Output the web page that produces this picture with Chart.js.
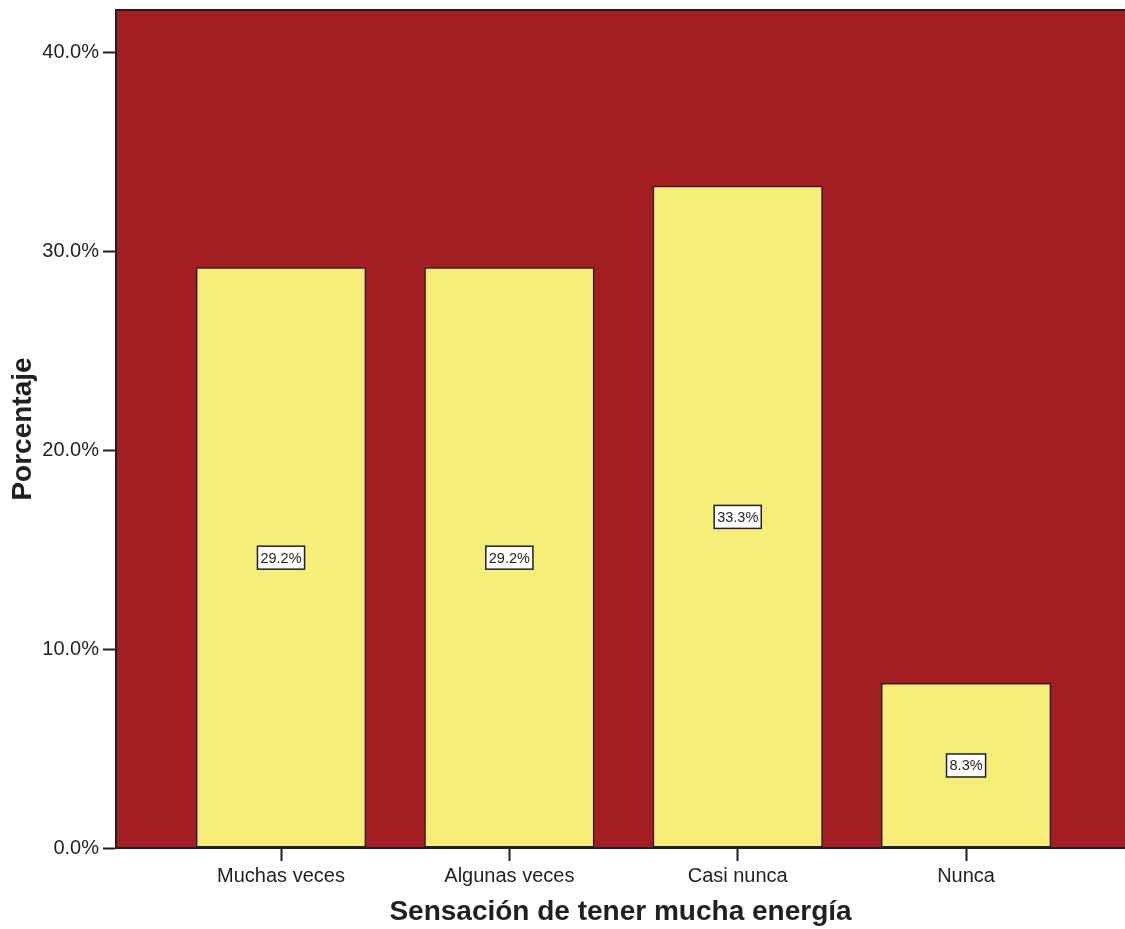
<!DOCTYPE html>
<html>
<head>
<meta charset="utf-8">
<script src="https://cdn.jsdelivr.net/npm/chart.js@4"></script>
<style>
  html, body { margin: 0; padding: 0; background: #fff; }
  #wrap { width: 1125px; height: 929px; }
</style>
</head>
<body>
<div id="wrap"><canvas id="chart" width="1125" height="929"></canvas></div>
<script>
// Datos del gráfico
const categorias = ['Muchas veces', 'Algunas veces', 'Casi nunca', 'Nunca'];
const porcentajes = [29.2, 29.2, 33.3, 8.3];
const ticksY = [0, 10, 20, 30, 40];

const tinta = '#231f20';
const fuente = "'Liberation Sans', Arial, sans-serif";

// Fondo rojo del área de trazado y borde superior
const fondoPlugin = {
    id: 'fondo',
    beforeDraw(chart) {
        const { ctx, chartArea: a } = chart;
        ctx.save();
        ctx.fillStyle = '#a21e22';
        ctx.fillRect(a.left, a.top, a.right - a.left, a.bottom - a.top);
        ctx.strokeStyle = tinta;
        ctx.lineWidth = 2;
        ctx.beginPath();
        ctx.moveTo(a.left, a.top);
        ctx.lineTo(a.right, a.top);
        ctx.stroke();
        ctx.restore();
    }
};

// Etiquetas con el valor en medio de cada barra
const etiquetasPlugin = {
    id: 'etiquetas',
    afterDatasetsDraw(chart) {
        const { ctx } = chart;
        const meta = chart.getDatasetMeta(0);
        const yScale = chart.scales.y;
        ctx.save();
        ctx.font = '14.5px ' + fuente;
        ctx.textAlign = 'center';
        ctx.textBaseline = 'middle';
        meta.data.forEach((bar, i) => {
            const texto = porcentajes[i].toFixed(1) + '%';
            const yc = yScale.getPixelForValue(porcentajes[i] / 2);
            const w = ctx.measureText(texto).width + 6;
            const h = 23;
            ctx.fillStyle = '#ffffff';
            ctx.fillRect(bar.x - w / 2, yc - h / 2, w, h);
            ctx.strokeStyle = tinta;
            ctx.lineWidth = 1.5;
            ctx.strokeRect(bar.x - w / 2, yc - h / 2, w, h);
            ctx.fillStyle = tinta;
            ctx.fillText(texto, bar.x, yc + 1);
        });
        ctx.restore();
    }
};

new Chart(document.getElementById('chart'), {
    type: 'bar',
    data: {
        datasets: [{
            data: porcentajes.map((v, i) => ({ x: i + 1, y: v })),
            backgroundColor: '#f7ee7a',
            borderColor: tinta,
            borderWidth: 1.5,
            borderSkipped: false,
            barPercentage: 0.745,
            categoryPercentage: 1
        }]
    },
    options: {
        responsive: false,
        animation: false,
        layout: { padding: { top: 10, right: 0, left: 0, bottom: 0 } },
        plugins: {
            legend: { display: false },
            tooltip: { enabled: false }
        },
        scales: {
            x: {
                type: 'linear',
                offset: false,
                min: 0.2774,
                max: 4.696,
                afterBuildTicks: s => { s.ticks = categorias.map((c, i) => ({ value: i + 1 })); },
                afterFit: s => { s.height = 81; s.paddingLeft = 0; s.paddingRight = 0; },
                ticks: {
                    callback: v => categorias[v - 1],
                    color: tinta,
                    font: { family: fuente, size: 20 },
                    padding: 3,
                    maxRotation: 0,
                    autoSkip: false
                },
                grid: {
                    offset: false,
                    drawOnChartArea: false,
                    drawTicks: true,
                    tickLength: 13,
                    tickWidth: 2,
                    tickColor: tinta
                },
                border: { display: true, color: tinta, width: 2 },
                title: {
                    display: true,
                    text: 'Sensación de tener mucha energía',
                    color: tinta,
                    font: { family: fuente, size: 28, weight: 'bold' },
                    padding: { top: 0, bottom: 0 }
                }
            },
            y: {
                min: 0,
                max: 42.14,
                afterBuildTicks: s => { s.ticks = ticksY.map(v => ({ value: v })); },
                afterFit: s => { s.width = 116; s.paddingTop = 0; s.paddingBottom = 0; },
                ticks: {
                    callback: v => v.toFixed(1) + '%',
                    color: tinta,
                    font: { family: fuente, size: 20 },
                    padding: 4
                },
                grid: {
                    drawOnChartArea: false,
                    drawTicks: true,
                    tickLength: 13,
                    tickWidth: 2,
                    tickColor: tinta
                },
                border: { display: true, color: tinta, width: 2 },
                title: {
                    display: true,
                    text: 'Porcentaje',
                    color: tinta,
                    font: { family: fuente, size: 28, weight: 'bold' },
                    padding: { top: 6, bottom: 0 }
                }
            }
        }
    },
    plugins: [fondoPlugin, etiquetasPlugin]
});
</script>
</body>
</html>
